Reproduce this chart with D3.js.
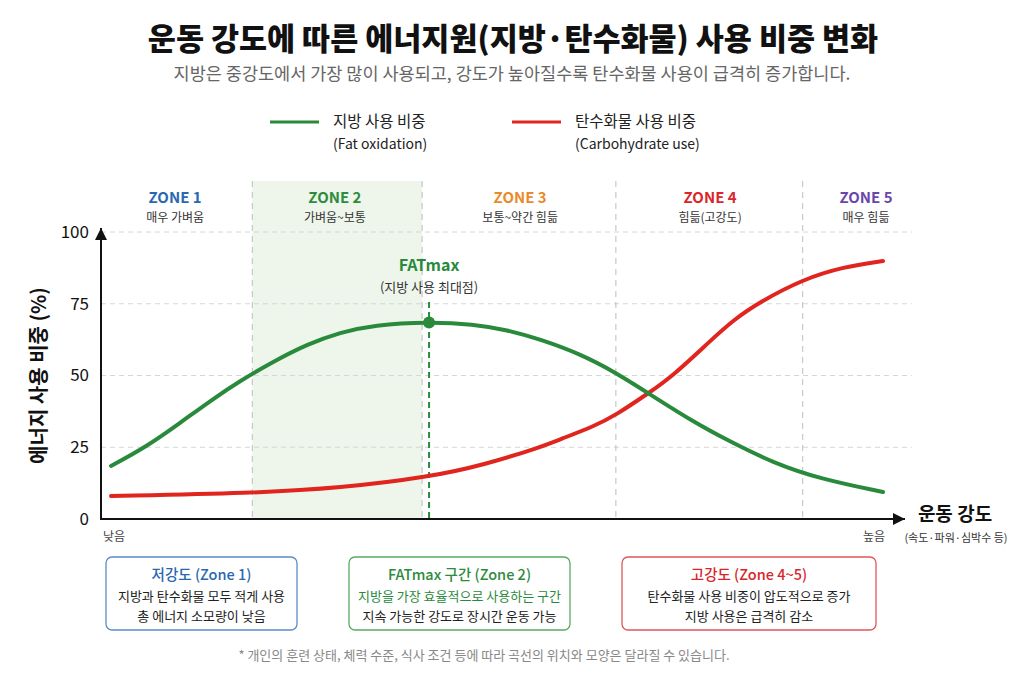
<!DOCTYPE html>
<html>
<head>
<meta charset="utf-8">
<script src="https://cdn.jsdelivr.net/npm/d3@7"></script>
<style>
  body { margin: 0; background: #fff; }
  svg { display: block; font-family: 'Noto Sans CJK KR', 'Noto Sans', sans-serif; }
</style>
</head>
<body>
<svg id="chart"></svg>
<script>
// intensity (0 = 낮음, 100 = 높음)
let fatX = [0, 4.6, 8.9, 13.2, 16.7, 21, 25.4, 29.7, 34, 41.2, 46.9, 51.3, 55.6, 60.8, 65.4, 69.6, 75.4, 79.8, 85.8, 91.8, 100];
let fatY = [18.5, 25.2, 33.4, 41.8, 48.1, 54.8, 60.9, 65, 67.6, 68.7, 67.9, 65.9, 62.6, 57.5, 51, 43.8, 33.9, 27.5, 19.5, 14, 9.4];

let carbX = [0, 18.3, 29.7, 41.2, 48.5, 55.6, 58.2, 62.5, 65.4, 69.6, 72.8, 77.6, 80.6, 84.1, 89.6, 94.9, 100];
let carbY = [8, 9, 10.8, 14.6, 19, 25, 27.8, 32.2, 36.2, 43.8, 49.9, 62, 69.3, 75.7, 83.5, 87.9, 89.9];

let zoneBounds = [18.3, 40.3, 65.4, 89.6];
let fatMaxX = 41.2;
let fatMaxY = 68.5;

let zoneNames = ['ZONE 1', 'ZONE 2', 'ZONE 3', 'ZONE 4', 'ZONE 5'];
let zoneDesc = ['매우 가벼움', '가벼움~보통', '보통~약간 힘듦', '힘듦(고강도)', '매우 힘듦'];
let zoneCenters = [8.3, 29, 53, 77.6, 97.8];
let zoneColors = ['#2a67b1', '#2e8b3c', '#ea8a2b', '#d9262b', '#6a45ae'];

let yTicks = [0, 25, 50, 75, 100];

let boxTitles = ['저강도 (Zone 1)', 'FATmax 구간 (Zone 2)', '고강도 (Zone 4~5)'];
let boxLines = [
    ['지방과 탄수화물 모두 적게 사용', '총 에너지 소모량이 낮음'],
    ['지방을 가장 효율적으로 사용하는 구간', '지속 가능한 강도로 장시간 운동 가능'],
    ['탄수화물 사용 비중이 압도적으로 증가', '지방 사용은 급격히 감소']
];
let boxColors = ['#2a67b1', '#2e8b3c', '#d9262b'];
let boxBorders = ['#5b8cc8', '#5aaa62', '#e0575a'];

let width = 1024;
let height = 683;

let green = '#2a8a3b';
let red = '#e0251f';

let svg = d3.select('#chart').attr('width', width).attr('height', height);

let xScale = d3.scaleLinear().domain([0, 100]).range([111, 883]);
let yScale = d3.scaleLinear().domain([0, 100]).range([519, 232]);

let axisLeftX = 101;
let axisRightX = 905;
let plotTop = 181;

// title
svg.append('text')
    .attr('x', 513).attr('y', 50)
    .attr('text-anchor', 'middle')
    .attr('font-size', 30.5).attr('font-weight', 900).attr('fill', '#111')
    .text('운동 강도에 따른 에너지원(지방·탄수화물) 사용 비중 변화');

svg.append('text')
    .attr('x', 512).attr('y', 80)
    .attr('text-anchor', 'middle')
    .attr('font-size', 17.5).attr('fill', '#666')
    .text('지방은 중강도에서 가장 많이 사용되고, 강도가 높아질수록 탄수화물 사용이 급격히 증가합니다.');

// legend
let legend = [
    { x: 270, color: green, t1: '지방 사용 비중', t2: '(Fat oxidation)' },
    { x: 512, color: red, t1: '탄수화물 사용 비중', t2: '(Carbohydrate use)' }
];
legend.forEach((l) => {
    svg.append('line')
        .attr('x1', l.x).attr('x2', l.x + 49)
        .attr('y1', 122).attr('y2', 122)
        .attr('stroke', l.color).attr('stroke-width', 3);
    svg.append('text')
        .attr('x', l.x + 63).attr('y', 127)
        .attr('font-size', 15.5).attr('fill', '#222')
        .text(l.t1);
    svg.append('text')
        .attr('x', l.x + 63).attr('y', 149)
        .attr('font-size', 14).attr('fill', '#222')
        .text(l.t2);
});

// zone 2 shading
svg.append('rect')
    .attr('x', xScale(zoneBounds[0]))
    .attr('y', plotTop)
    .attr('width', xScale(zoneBounds[1]) - xScale(zoneBounds[0]))
    .attr('height', yScale(0) - plotTop)
    .attr('fill', '#eef6ec');

// horizontal grid
svg.append('g')
    .selectAll('line')
    .data(yTicks.filter((d) => d > 0))
    .enter()
    .append('line')
    .attr('x1', axisLeftX).attr('x2', 912)
    .attr('y1', (d) => yScale(d)).attr('y2', (d) => yScale(d))
    .attr('stroke', '#d6d6d6').attr('stroke-dasharray', '5,4');

// zone boundaries
svg.append('g')
    .selectAll('line')
    .data(zoneBounds)
    .enter()
    .append('line')
    .attr('x1', (d) => xScale(d)).attr('x2', (d) => xScale(d))
    .attr('y1', plotTop).attr('y2', yScale(0))
    .attr('stroke', '#bdbdbd').attr('stroke-dasharray', '6,5');

// FATmax line
svg.append('line')
    .attr('x1', xScale(fatMaxX)).attr('x2', xScale(fatMaxX))
    .attr('y1', 302).attr('y2', yScale(0))
    .attr('stroke', green).attr('stroke-width', 2).attr('stroke-dasharray', '6,4');

// zone headers
zoneNames.forEach((z, i) => {
    svg.append('text')
        .attr('x', xScale(zoneCenters[i])).attr('y', 203)
        .attr('text-anchor', 'middle')
        .attr('font-size', 15).attr('font-weight', 700).attr('fill', zoneColors[i])
        .text(z);
    svg.append('text')
        .attr('x', xScale(zoneCenters[i])).attr('y', 222)
        .attr('text-anchor', 'middle')
        .attr('font-size', 12).attr('fill', '#333')
        .text(zoneDesc[i]);
});

// curves
let line = d3.line()
    .x((d) => xScale(d[0]))
    .y((d) => yScale(d[1]))
    .curve(d3.curveBasis);

svg.append('path')
    .datum(carbX.map((x, i) => [x, carbY[i]]))
    .attr('d', line)
    .attr('fill', 'none').attr('stroke', red).attr('stroke-width', 4)
    .attr('stroke-linecap', 'round');

svg.append('path')
    .datum(fatX.map((x, i) => [x, fatY[i]]))
    .attr('d', line)
    .attr('fill', 'none').attr('stroke', green).attr('stroke-width', 4)
    .attr('stroke-linecap', 'round');

// FATmax marker
svg.append('circle')
    .attr('cx', xScale(fatMaxX)).attr('cy', yScale(fatMaxY))
    .attr('r', 6).attr('fill', green);

svg.append('text')
    .attr('x', xScale(fatMaxX)).attr('y', 271)
    .attr('text-anchor', 'middle')
    .attr('font-size', 16).attr('font-weight', 700).attr('fill', green)
    .text('FATmax');
svg.append('text')
    .attr('x', xScale(fatMaxX)).attr('y', 292)
    .attr('text-anchor', 'middle')
    .attr('font-size', 13).attr('fill', '#333')
    .text('(지방 사용 최대점)');

// axes
let yAxis = d3.axisLeft(yScale).tickValues(yTicks).tickSize(0).tickPadding(12);
let gy = svg.append('g')
    .attr('transform', `translate(${axisLeftX}, 0)`)
    .call(yAxis);
gy.select('.domain').remove();
gy.selectAll('text')
    .attr('font-size', 17).attr('fill', '#111')
    .attr('font-family', "'Noto Sans CJK KR', sans-serif");

svg.append('defs').append('marker')
    .attr('id', 'arrow')
    .attr('viewBox', '0 0 10 10')
    .attr('refX', 10).attr('refY', 5)
    .attr('markerWidth', 6).attr('markerHeight', 6)
    .attr('orient', 'auto')
    .append('path')
    .attr('d', 'M0,0 L10,5 L0,10 z')
    .attr('fill', '#111');

svg.append('line')
    .attr('x1', axisLeftX).attr('x2', axisLeftX)
    .attr('y1', yScale(0) + 1).attr('y2', 228)
    .attr('stroke', '#111').attr('stroke-width', 2)
    .attr('marker-end', 'url(#arrow)');

svg.append('line')
    .attr('x1', axisLeftX - 1).attr('x2', axisRightX)
    .attr('y1', yScale(0)).attr('y2', yScale(0))
    .attr('stroke', '#111').attr('stroke-width', 2)
    .attr('marker-end', 'url(#arrow)');

svg.append('text')
    .attr('transform', `translate(46, ${yScale(50)}) rotate(-90)`)
    .attr('text-anchor', 'middle')
    .attr('font-size', 20).attr('font-weight', 700).attr('fill', '#111')
    .text('에너지 사용 비중 (%)');

svg.append('text')
    .attr('x', 103).attr('y', 541)
    .attr('font-size', 12).attr('fill', '#444')
    .text('낮음');
svg.append('text')
    .attr('x', 885).attr('y', 541)
    .attr('text-anchor', 'end')
    .attr('font-size', 12).attr('fill', '#444')
    .text('높음');

svg.append('text')
    .attr('x', 955).attr('y', 521)
    .attr('text-anchor', 'middle')
    .attr('font-size', 19).attr('font-weight', 700).attr('fill', '#111')
    .text('운동 강도');
svg.append('text')
    .attr('x', 956).attr('y', 542)
    .attr('text-anchor', 'middle')
    .attr('font-size', 11).attr('fill', '#333')
    .text('(속도·파워·심박수 등)');

// info boxes
let boxX = [106, 349, 622];
let boxW = [191, 221, 254];
boxTitles.forEach((t, i) => {
    let cx = boxX[i] + boxW[i] / 2;
    svg.append('rect')
        .attr('x', boxX[i]).attr('y', 557)
        .attr('width', boxW[i]).attr('height', 73)
        .attr('rx', 6)
        .attr('fill', '#fff').attr('stroke', boxBorders[i]).attr('stroke-width', 1.3);
    svg.append('text')
        .attr('x', cx).attr('y', 580)
        .attr('text-anchor', 'middle')
        .attr('font-size', 14.5).attr('font-weight', 500).attr('fill', boxColors[i])
        .text(t);
    boxLines[i].forEach((s, j) => {
        svg.append('text')
            .attr('x', cx).attr('y', 601 + j * 20)
            .attr('text-anchor', 'middle')
            .attr('font-size', 13).attr('fill', j === 0 && i === 1 ? green : '#222')
            .text(s);
    });
});

svg.append('text')
    .attr('x', 484).attr('y', 660)
    .attr('text-anchor', 'middle')
    .attr('font-size', 13).attr('fill', '#888')
    .text('* 개인의 훈련 상태, 체력 수준, 식사 조건 등에 따라 곡선의 위치와 모양은 달라질 수 있습니다.');
</script>
</body>
</html>
